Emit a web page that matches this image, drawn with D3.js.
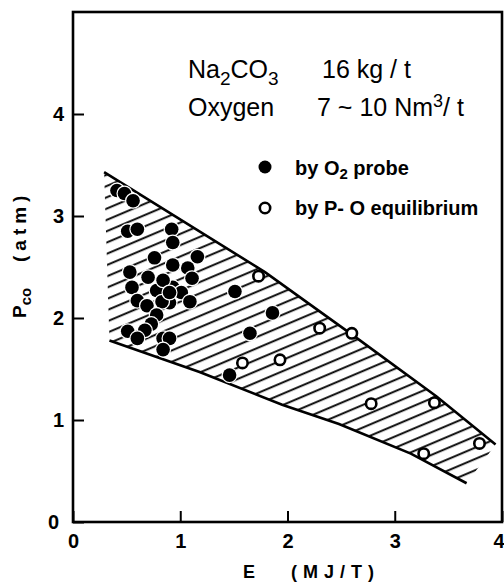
<!DOCTYPE html>
<html>
<head>
<meta charset="utf-8">
<script src="https://cdn.jsdelivr.net/npm/d3@7"></script>
<style>
  html, body { margin: 0; padding: 0; background: #fff; }
  svg { display: block; }
  text { font-family: "Liberation Sans", Arial, sans-serif; fill: #000; }
</style>
</head>
<body>
<svg id="chart" width="504" height="585"></svg>
<script>
// CO partial pressure vs. energy input, Na2CO3 treatment
const xTicks = [0, 1, 2, 3, 4];
const yTicks = [0, 1, 2, 3, 4];

// Measured with the O2 probe (filled circles)
const probeE = [0.41, 0.48, 0.56, 0.51, 0.60, 0.92, 0.93, 0.76, 1.16, 0.53, 0.70, 0.93, 1.07, 1.11,
                0.55, 0.78, 0.93, 1.01, 0.84, 0.60, 0.69, 0.90, 1.09, 0.83, 0.78, 0.73, 0.67, 0.51,
                0.60, 0.84, 0.90, 0.84, 0.90, 1.51, 1.86, 1.65, 1.46];
const probeP = [3.25, 3.22, 3.15, 2.85, 2.87, 2.87, 2.74, 2.59, 2.60, 2.45, 2.40, 2.52, 2.49, 2.39,
                2.30, 2.27, 2.30, 2.25, 2.37, 2.17, 2.12, 2.15, 2.16, 2.16, 2.03, 1.94, 1.88, 1.87,
                1.80, 1.80, 1.80, 1.69, 2.25, 2.26, 2.05, 1.85, 1.44];

// Derived from P-O equilibrium (open circles)
const eqE = [1.73, 1.58, 1.93, 2.30, 2.60, 2.78, 3.37, 3.27, 3.79];
const eqP = [2.41, 1.56, 1.59, 1.90, 1.85, 1.16, 1.17, 0.67, 0.77];

// Envelope of the scatter (hatched band)
const upperE = [0.29, 1.79, 2.65, 3.39, 3.94];
const upperP = [3.43, 2.45, 1.80, 1.23, 0.76];
const lowerE = [0.34, 1.18, 1.95, 2.48, 3.15, 3.67];
const lowerP = [1.78, 1.47, 1.15, 0.96, 0.67, 0.38];

const svg = d3.select("#chart");
const x = d3.scaleLinear().domain([0, 4]).range([73, 502]);
const y = d3.scaleLinear().domain([0, 5]).range([522, 12]);

// hatch pattern
const defs = svg.append("defs");
const pat = defs.append("pattern")
  .attr("id", "hatch")
  .attr("patternUnits", "userSpaceOnUse")
  .attr("width", 40).attr("height", 10.4)
  .attr("patternTransform", "rotate(-23)");
pat.append("line")
  .attr("x1", -5).attr("x2", 45).attr("y1", 5).attr("y2", 5)
  .attr("stroke", "#000").attr("stroke-width", 1.8);

const upper = upperE.map((e, i) => [x(e), y(upperP[i])]);
const lower = lowerE.map((e, i) => [x(e), y(lowerP[i])]);
const band = upper.concat(lower.slice().reverse());

svg.append("path")
  .attr("d", d3.line()(band) + "Z")
  .attr("fill", "url(#hatch)");

const edge = d3.line();
svg.append("path").attr("d", edge(upper))
  .attr("fill", "none").attr("stroke", "#000").attr("stroke-width", 2.6);
svg.append("path").attr("d", edge(lower))
  .attr("fill", "none").attr("stroke", "#000").attr("stroke-width", 2.6);

// frame
svg.append("rect")
  .attr("x", x(0)).attr("y", y(5))
  .attr("width", x(4) - x(0)).attr("height", y(0) - y(5))
  .attr("fill", "none").attr("stroke", "#000").attr("stroke-width", 2.6);

// axes with inward ticks
const yAxis = d3.axisLeft(y).tickValues(yTicks).tickSize(-11).tickPadding(9)
  .tickFormat(d3.format("d"));
const gy = svg.append("g").attr("transform", `translate(${x(0)},0)`).call(yAxis);
gy.select(".domain").remove();
gy.selectAll(".tick line").attr("stroke", "#000").attr("stroke-width", 2);
gy.selectAll(".tick text").attr("font-size", 20).attr("font-weight", "bold")
  .attr("font-family", "Liberation Sans, Arial, sans-serif")
  .attr("dx", d => d === 0 ? -5 : 0);

const xAxis = d3.axisBottom(x).tickValues(xTicks).tickSize(-11).tickPadding(12)
  .tickFormat(d3.format("d"));
const gx = svg.append("g").attr("transform", `translate(0,${y(0)})`).call(xAxis);
gx.select(".domain").remove();
gx.selectAll(".tick line").attr("stroke", "#000").attr("stroke-width", 2);
gx.selectAll(".tick text").attr("font-size", 20).attr("font-weight", "bold")
  .attr("font-family", "Liberation Sans, Arial, sans-serif")
  .attr("text-anchor", d => d === 4 ? "end" : "middle")
  .attr("dx", d => d === 4 ? 2 : 0);

// data points (white halo breaks the hatching)
svg.append("g").selectAll("circle.probe")
  .data(probeE.map((e, i) => [e, probeP[i]]))
  .join("circle").attr("class", "probe")
  .attr("cx", d => x(d[0])).attr("cy", d => y(d[1]))
  .attr("r", 6.8).attr("fill", "#000")
  .attr("stroke", "#fff").attr("stroke-width", 2.5)
  .attr("paint-order", "stroke");

svg.append("g").selectAll("circle.eq")
  .data(eqE.map((e, i) => [e, eqP[i]]))
  .join("circle").attr("class", "eq")
  .attr("cx", d => x(d[0])).attr("cy", d => y(d[1]))
  .attr("r", 5.2).attr("fill", "#fff")
  .attr("stroke", "#000").attr("stroke-width", 2.6);

// conditions
const cond = svg.append("g").attr("font-size", 25);
const t1 = cond.append("text").attr("x", 188).attr("y", 78);
t1.append("tspan").text("Na");
t1.append("tspan").attr("font-size", 19).attr("dy", 7).text("2");
t1.append("tspan").attr("dy", -7).text("CO");
t1.append("tspan").attr("font-size", 19).attr("dy", 7).text("3");
cond.append("text").attr("x", 322).attr("y", 78).text("16 kg / t");
cond.append("text").attr("x", 188).attr("y", 116).text("Oxygen");
const t2 = cond.append("text").attr("x", 317).attr("y", 116);
t2.append("tspan").text("7 ~ 10 Nm");
t2.append("tspan").attr("font-size", 18).attr("dy", -9).text("3");
t2.append("tspan").attr("dy", 9).text("/ t");

// legend
const leg = svg.append("g").attr("font-size", 20).attr("font-weight", "bold");
leg.append("circle").attr("cx", 265).attr("cy", 167).attr("r", 6.5).attr("fill", "#000");
const l1 = leg.append("text").attr("x", 295).attr("y", 175);
l1.append("tspan").text("by  O");
l1.append("tspan").attr("font-size", 15).attr("dy", 4).text("2");
l1.append("tspan").attr("dy", -4).text(" probe");
leg.append("circle").attr("cx", 265).attr("cy", 208).attr("r", 5.2)
  .attr("fill", "#fff").attr("stroke", "#000").attr("stroke-width", 2.6);
leg.append("text").attr("x", 295).attr("y", 215).text("by  P- O equilibrium");

// axis titles
const xt = svg.append("text").attr("y", 578).attr("font-size", 18).attr("font-weight", "bold");
xt.append("tspan").attr("x", 243).text("E");
xt.append("tspan").attr("x", 291).attr("letter-spacing", 6).text("(MJ/T)");

const yt = svg.append("text")
  .attr("transform", "translate(26,318) rotate(-90)")
  .attr("font-size", 19).attr("font-weight", "bold");
yt.append("tspan").text("P");
yt.append("tspan").attr("font-size", 15).attr("dy", 5).text("co");
yt.append("tspan").attr("dy", -5).attr("x", 56).attr("letter-spacing", 5).text("(atm)");
</script>
</body>
</html>
